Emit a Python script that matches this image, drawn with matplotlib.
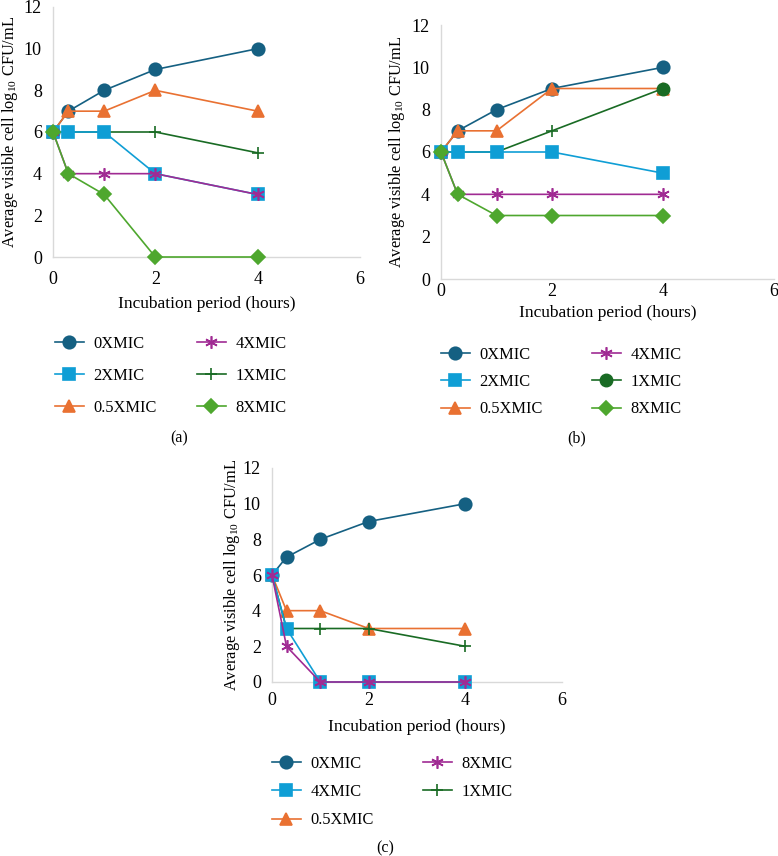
import matplotlib
matplotlib.use("Agg")
import matplotlib.pyplot as plt

plt.rcParams['font.family'] = ['Liberation Serif', 'DejaVu Serif']
plt.rcParams['mathtext.fontset'] = 'custom'
plt.rcParams['mathtext.rm'] = 'Liberation Serif'

W, H = 778, 856

hours = [0, 0.3, 1, 2, 4]

# Panel (a)
a_labels = ["0XMIC", "2XMIC", "0.5XMIC", "4XMIC", "1XMIC", "8XMIC"]
a_0x = [6, 7, 8, 9, 10]
a_2x = [6, 6, 6, 4, 3]
a_05x = [6, 7, 7, 8, 7]
a_4x = [6, 4, 4, 4, 3]
a_1x = [6, 6, 6, 6, 5]
a_8x = [6, 4, 3, 0, 0]

# Panel (b)
b_labels = ["0XMIC", "2XMIC", "0.5XMIC", "4XMIC", "1XMIC", "8XMIC"]
b_0x = [6, 7, 8, 9, 10]
b_2x = [6, 6, 6, 6, 5]
b_05x = [6, 7, 7, 9, 9]
b_4x = [6, 4, 4, 4, 4]
b_1x = [6, 6, 6, 7, 9]
b_8x = [6, 4, 3, 3, 3]

# Panel (c)
c_labels = ["0XMIC", "4XMIC", "0.5XMIC", "8XMIC", "1XMIC"]
c_0x = [6, 7, 8, 9, 10]
c_4x = [6, 3, 0, 0, 0]
c_05x = [6, 4, 4, 3, 3]
c_8x = [6, 2, 0, 0, 0]
c_1x = [6, 3, 3, 3, 2]

yticks = [0, 2, 4, 6, 8, 10, 12]
xticks = [0, 2, 4, 6]

C_0X = '#156082'
C_LB = '#0F9ED5'
C_OR = '#E97132'
C_PU = '#A02B93'
C_DG = '#196B24'
C_LG = '#4EA72E'

STAR = (6, 2, 0)

fig = plt.figure(figsize=(W / 100, H / 100), dpi=100)


def add_ax(left, top, right, bottom):
    return fig.add_axes([left / W, 1 - bottom / H, (right - left) / W, (bottom - top) / H])


def style(ax, left, top, right, bottom, ylab_x_px, xlab_top_px, xpad):
    ax.set_xlim(0, 6)
    ax.set_ylim(0, 12)
    ax.set_xticks(xticks)
    ax.set_yticks(yticks)
    for s in ['top', 'right']:
        ax.spines[s].set_visible(False)
    for s in ['left', 'bottom']:
        ax.spines[s].set_color('#d9d9d9')
        ax.spines[s].set_linewidth(1.0)
    ax.tick_params(length=0, labelsize=13)
    ax.tick_params(axis='y', pad=8)
    ax.tick_params(axis='x', pad=xpad)
    ax.set_ylabel('Average visible cell log$_{10}$ CFU/mL', fontsize=11.8)
    ax.set_xlabel('Incubation period (hours)', fontsize=12.5)
    ax.yaxis.set_label_coords((ylab_x_px - left) / (right - left), 0.5)
    ax.xaxis.set_label_coords(0.5, (bottom - xlab_top_px) / (bottom - top))
    ax.patch.set_alpha(0)


LW = 1.2


def series(ax, y, color, marker, ms, label, z, **kw):
    ax.plot(hours, y, color=color, marker=marker, ms=ms, lw=LW, label=label,
            markeredgecolor=color, markeredgewidth=1.2, zorder=z, clip_on=False, **kw)


# ---- Panel (a)
A = (53, 7, 360, 257)
axa = add_ax(*A)
series(axa, a_0x, C_0X, 'o', 9, a_labels[0], 3)
series(axa, a_2x, C_LB, 's', 8.5, a_labels[1], 4)
series(axa, a_05x, C_OR, '^', 9, a_labels[2], 3)
series(axa, a_4x, C_PU, STAR, 9, a_labels[3], 5)
series(axa, a_1x, C_DG, '+', 9, a_labels[4], 2.5)
series(axa, a_8x, C_LG, 'D', 7, a_labels[5], 6)
style(axa, *A, 20, 296, 10)

# ---- Panel (b)
B = (441, 25, 774, 279)
axb = add_ax(*B)
series(axb, b_0x, C_0X, 'o', 9, b_labels[0], 3)
series(axb, b_2x, C_LB, 's', 8.5, b_labels[1], 4)
series(axb, b_05x, C_OR, '^', 9, b_labels[2], 3.5)
series(axb, b_4x, C_PU, STAR, 9, b_labels[3], 5)
axb.plot(hours, b_1x, color=C_DG, marker='o', ms=9, lw=LW, label=b_labels[4],
         markevery=[4], markeredgecolor=C_DG, zorder=3.8, clip_on=False)
axb.plot(hours, b_1x, color=C_DG, marker='+', ms=9, lw=0, markevery=[3],
         markeredgewidth=1.2, zorder=2.5, clip_on=False)
series(axb, b_8x, C_LG, 'D', 7, b_labels[5], 6)
style(axb, *B, 407, 305, 3)

# ---- Panel (c)
Cc = (272, 468, 562, 682)
axc = add_ax(*Cc)
series(axc, c_0x, C_0X, 'o', 9, c_labels[0], 3)
series(axc, c_4x, C_LB, 's', 8.5, c_labels[1], 4)
series(axc, c_05x, C_OR, '^', 9, c_labels[2], 3)
series(axc, c_8x, C_PU, STAR, 9, c_labels[3], 5)
series(axc, c_1x, C_DG, '+', 9, c_labels[4], 3.5)
style(axc, *Cc, 242, 719, 7)


def place_legend(ax, x_px, y_top_px, labelspacing, colspacing):
    h, l = ax.get_legend_handles_labels()
    leg = fig.legend(h, l, loc='upper left', bbox_to_anchor=(x_px / W, 1 - y_top_px / H),
                     bbox_transform=fig.transFigure, ncol=2, frameon=False,
                     fontsize=11.8, handlelength=1.75, handletextpad=0.6,
                     labelspacing=labelspacing, columnspacing=colspacing,
                     borderpad=0, borderaxespad=0)
    return leg


place_legend(axa, 55, 336, 0.98, 2.45)
place_legend(axb, 441, 347, 0.68, 3.0)
place_legend(axc, 272, 756, 0.74, 3.0)

fig.text(179 / W, 1 - 438 / H, '(a)', ha='center', va='center', fontsize=11.5)
fig.text(577 / W, 1 - 438 / H, '(b)', ha='center', va='center', fontsize=11.5)
fig.text(385 / W, 1 - 848 / H, '(c)', ha='center', va='center', fontsize=11.5)

fig.savefig('out.png', dpi=100)
